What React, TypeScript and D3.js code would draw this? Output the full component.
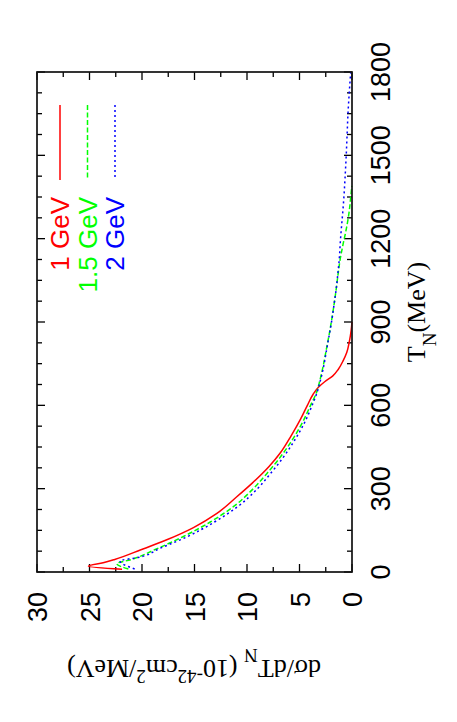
import React, { useEffect, useRef } from 'react';
import * as d3 from 'd3';

// kinetic energy of the nucleon (MeV) and cross section (10^-42 cm^2/MeV)
const red1T = [10, 21, 33, 45, 80, 115, 160, 210, 270, 320, 380, 430, 490, 550, 600, 640, 665, 685, 705, 730, 760, 790, 830, 870, 900];
const red1S = [21.9, 25.1, 23.7, 22.6, 20.1, 17.7, 15.1, 12.9, 11.0, 9.5, 7.9, 6.8, 5.8, 4.9, 4.25, 3.7, 3.2, 2.6, 1.85, 1.3, 0.85, 0.5, 0.25, 0.08, 0];

const green15T = [11, 30, 45, 80, 127, 180, 235, 300, 355, 410, 463, 547, 600, 644, 691, 750, 800, 850, 907, 960, 1020, 1080, 1123, 1180, 1243, 1300, 1350, 1390];
const green15S = [21.3, 22.4, 21.0, 18.8, 16.1, 13.5, 11.3, 9.4, 8.1, 6.9, 5.9, 4.6, 3.95, 3.4, 3.05, 2.7, 2.45, 2.2, 1.94, 1.72, 1.5, 1.3, 1.14, 0.85, 0.5, 0.26, 0.12, 0.02];

const blue2T = [11, 40, 52, 85, 127, 180, 235, 300, 355, 410, 463, 547, 600, 644, 691, 750, 800, 850, 907, 960, 1020, 1080, 1123, 1195, 1243, 1300, 1350, 1420, 1500, 1580, 1652, 1720, 1770, 1800];
const blue2S = [20.7, 22.1, 20.4, 18.3, 15.7, 13.1, 10.9, 9.0, 7.75, 6.6, 5.65, 4.4, 3.8, 3.35, 3.0, 2.65, 2.42, 2.18, 1.92, 1.72, 1.5, 1.33, 1.22, 1.1, 1.0, 0.87, 0.77, 0.66, 0.55, 0.46, 0.38, 0.27, 0.18, 0.12];

const seriesNames = ['1 GeV', '1.5 GeV', '2 GeV'];
const seriesColors = ['#ff0000', '#00ff00', '#0000ff'];
const seriesDash = [null, '5,2.5', '2,3'];

const tTicks = [0, 300, 600, 900, 1200, 1500, 1800];
const sTicks = [0, 5, 10, 15, 20, 25, 30];

const App = () => {
  const svgRef = useRef(null);

  useEffect(() => {
    const svg = d3.select(svgRef.current);
    svg.selectAll('*').remove();

    const frame = { left: 37, right: 352, top: 72, bottom: 572 };

    // the plot is turned on its side: T runs upwards, dsigma runs to the left
    const tScale = d3.scaleLinear().domain([0, 1800]).range([frame.bottom, frame.top]);
    const sScale = d3.scaleLinear().domain([0, 30]).range([frame.right, frame.left]);

    svg.append('rect').attr('width', 457).attr('height', 722).attr('fill', '#fff');

    const ticks = svg.append('g').attr('stroke', '#000').attr('stroke-width', 1.3);

    d3.range(0, 1801, 75).forEach(t => {
      const len = t % 300 === 0 ? 8 : 5;
      const y = tScale(t);
      ticks.append('line').attr('x1', frame.right).attr('x2', frame.right - len).attr('y1', y).attr('y2', y);
      ticks.append('line').attr('x1', frame.left).attr('x2', frame.left + len).attr('y1', y).attr('y2', y);
    });

    d3.range(0, 30.01, 2.5).forEach(s => {
      const len = s % 5 === 0 ? 8 : 5;
      const x = sScale(s);
      ticks.append('line').attr('x1', x).attr('x2', x).attr('y1', frame.bottom).attr('y2', frame.bottom - len);
      ticks.append('line').attr('x1', x).attr('x2', x).attr('y1', frame.top).attr('y2', frame.top + len);
    });

    const all = [
      { t: red1T, s: red1S },
      { t: green15T, s: green15S },
      { t: blue2T, s: blue2S }
    ];

    const line = d3.line()
      .x(d => sScale(d[1]))
      .y(d => tScale(d[0]))
      .curve(d3.curveMonotoneY);

    all.forEach((ser, i) => {
      const pts = ser.t.map((t, j) => [t, ser.s[j]]);
      svg.append('path')
        .attr('d', line(pts))
        .attr('fill', 'none')
        .attr('stroke', seriesColors[i])
        .attr('stroke-width', 1.5)
        .attr('stroke-dasharray', seriesDash[i]);
    });

    svg.append('rect')
      .attr('x', frame.left).attr('y', frame.top)
      .attr('width', frame.right - frame.left).attr('height', frame.bottom - frame.top)
      .attr('fill', 'none').attr('stroke', '#111').attr('stroke-width', 1.7);

    // tick labels
    tTicks.forEach(t => {
      svg.append('text')
        .attr('transform', `translate(390,${tScale(t)}) rotate(-90)`)
        .attr('text-anchor', 'middle')
        .style('font-family', 'Liberation Sans, Arial, sans-serif')
        .style('font-size', '27px')
        .text(t);
    });

    sTicks.forEach(s => {
      svg.append('text')
        .attr('transform', `translate(${sScale(s) + 10},592) rotate(-90)`)
        .attr('text-anchor', 'end')
        .style('font-family', 'Liberation Sans, Arial, sans-serif')
        .style('font-size', '27px')
        .text(s);
    });

    // legend
    seriesNames.forEach((name, i) => {
      const x = 60 + i * 27.5;
      svg.append('line')
        .attr('x1', x).attr('x2', x).attr('y1', 105).attr('y2', 180)
        .attr('stroke', seriesColors[i]).attr('stroke-width', 1.5)
        .attr('stroke-dasharray', seriesDash[i]);
      svg.append('text')
        .attr('transform', `translate(${x + 9},197) rotate(-90)`)
        .attr('text-anchor', 'end')
        .attr('fill', seriesColors[i])
        .style('font-family', 'Liberation Sans, Arial, sans-serif')
        .style('font-size', '26px')
        .text(name);
    });

    // axis titles
    const yTitle = svg.append('text')
      .attr('transform', 'translate(194,660) rotate(180)')
      .attr('text-anchor', 'middle')
      .style('font-family', 'Liberation Serif, Times New Roman, serif')
      .style('font-size', '26px');
    yTitle.append('tspan').text('dσ/dT');
    yTitle.append('tspan').attr('baseline-shift', 'sub').style('font-size', '19px').text('N');
    yTitle.append('tspan').text(' (10');
    yTitle.append('tspan').attr('baseline-shift', 'super').style('font-size', '19px').text('-42');
    yTitle.append('tspan').text('cm');
    yTitle.append('tspan').attr('baseline-shift', 'super').style('font-size', '19px').text('2');
    yTitle.append('tspan').text('/MeV)');

    const xTitle = svg.append('text')
      .attr('transform', 'translate(425,312) rotate(-90)')
      .attr('text-anchor', 'middle')
      .style('font-family', 'Liberation Serif, Times New Roman, serif')
      .style('font-size', '26px');
    xTitle.append('tspan').text('T');
    xTitle.append('tspan').attr('baseline-shift', 'sub').style('font-size', '19px').text('N');
    xTitle.append('tspan').text('(MeV)');
  }, []);

  return (
    <svg
      ref={svgRef}
      width={457}
      height={722}
      style={{ position: 'absolute', left: 0, top: 0 }}
    />
  );
};

export default App;
